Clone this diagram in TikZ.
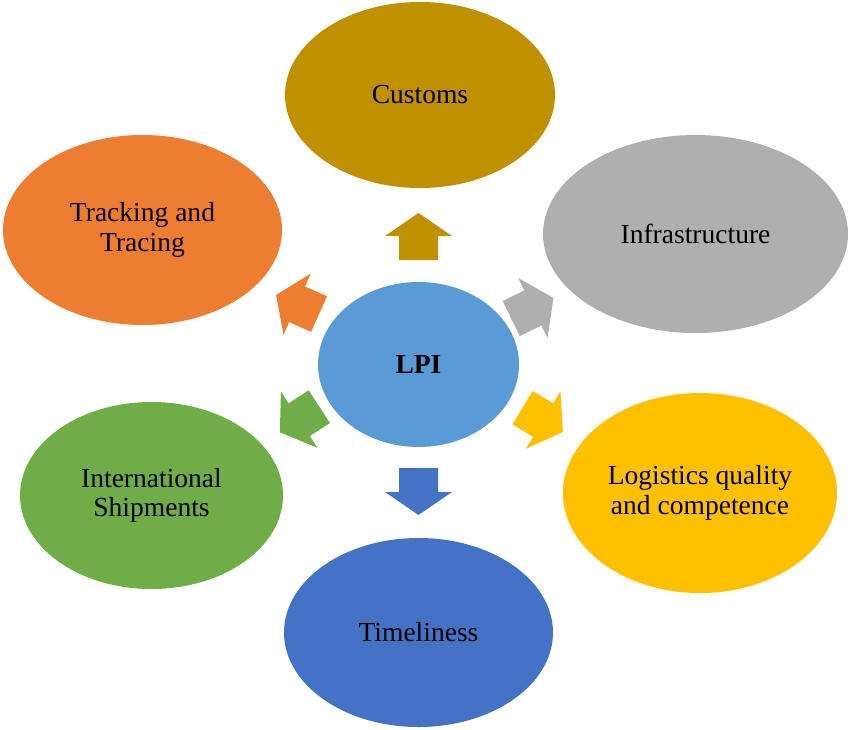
\documentclass[tikz,border=0pt]{standalone}
\usepackage{fontspec}
\setmainfont{Liberation Serif}
\usetikzlibrary{shapes.geometric,calc}

\definecolor{goldC}{HTML}{BF9000}
\definecolor{grayC}{HTML}{AFAFAF}
\definecolor{orangeC}{HTML}{ED7D31}
\definecolor{greenC}{HTML}{70AD47}
\definecolor{yellowC}{HTML}{FFC000}
\definecolor{blueC}{HTML}{4472C4}
\definecolor{lpiC}{HTML}{5B9BD5}

\tikzset{
  bubble/.style 2 args={ellipse, inner sep=0pt, align=center,
    minimum width=#1*0.03cm, minimum height=#2*0.03cm,
    font=\fontsize{23.5pt}{25pt}\selectfont},
}

% block arrow round the LPI bubble: #1 = angle:radius of its middle, #2 = direction, #3 = colour
\newcommand{\lpiarrow}[3]{%
  \begin{scope}[shift={($(lpi.center)+(#1)$)}, rotate=#2]
    \fill[#3] (-23.5,-19.5) -- (0.5,-19.5) -- (0.5,-33.5) -- (23.5,0)
      -- (0.5,33.5) -- (0.5,19.5) -- (-23.5,19.5) -- cycle;
  \end{scope}}

\begin{document}
\begin{tikzpicture}[x=0.03cm, y=0.03cm]
	\useasboundingbox (0,0) rectangle (850,-729);
	\node [bubble={201}{165}, fill=lpiC] (lpi) at (418.5,-364.5) {\textbf{LPI}};
	\node [bubble={270}{186}, fill=goldC] (customs) at (420,-95) {Customs};
	\node [bubble={305}{198}, fill=grayC] (infra) at (695.5,-234) {Infrastructure};
	\node [bubble={279}{190}, fill=orangeC] (track) at (142.5,-230) {Tracking and\\Tracing};
	\node [bubble={263}{187}, fill=greenC] (intl) at (151.5,-495.5) {International\\Shipments};
	\node [bubble={274}{200}, fill=yellowC] (logist) at (700,-493) {Logistics quality\\and competence};
	\node [bubble={269}{189}, fill=blueC] (time) at (418.5,-632.5) {Timeliness};
	\lpiarrow{90:128}{90}{goldC}
	\lpiarrow{26.3:127}{26}{grayC}
	\lpiarrow{153.6:135}{156}{orangeC}
	\lpiarrow{204.8:131}{213}{greenC}
	\lpiarrow{-24:136}{-31}{yellowC}
	\lpiarrow{-90:127}{-90}{blueC}
\end{tikzpicture}
\end{document}
